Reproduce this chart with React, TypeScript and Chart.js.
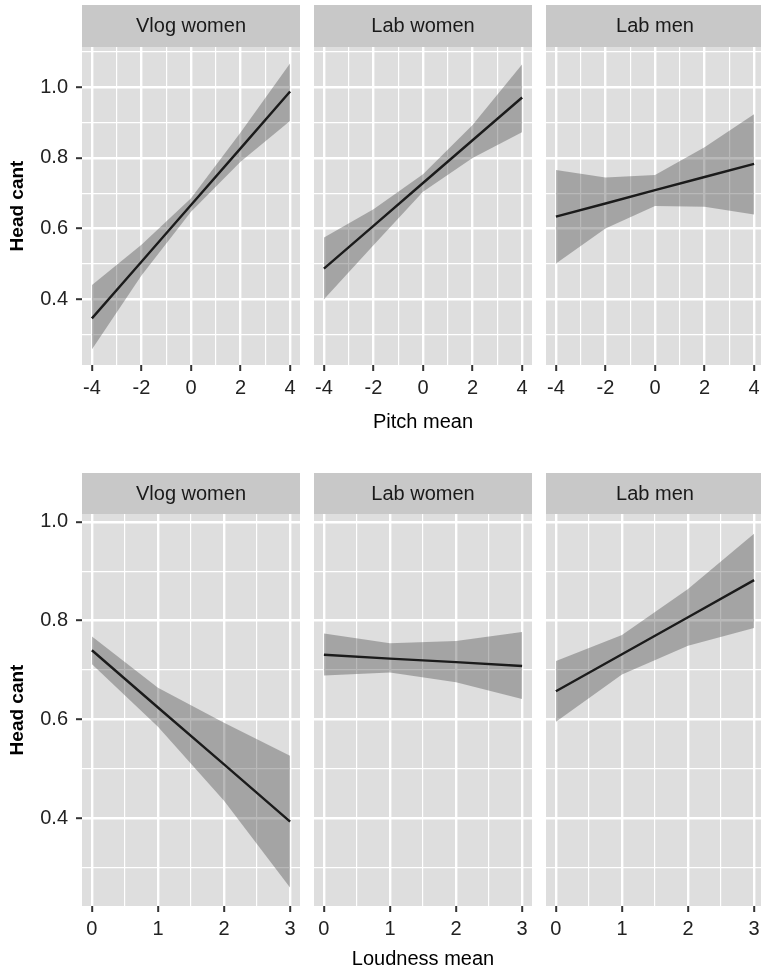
import React, { useEffect, useRef } from 'react';
import { Chart, registerables } from 'chart.js';

Chart.register(...registerables);

// ---------------- data ----------------
const facetLabels = ['Vlog women', 'Lab women', 'Lab men'];
const yTitle = 'Head cant';
const pitchTitle = 'Pitch mean';
const loudnessTitle = 'Loudness mean';

// Pitch mean (top row)
const pitchX = [-4, -2, 0, 2, 4];
const pitchTicks = [-4, -2, 0, 2, 4];
const pitchMinorTicks = [-3, -1, 1, 3];

const vlogPitchFit = [0.346, 0.506, 0.667, 0.827, 0.988];
const vlogPitchUpper = [0.44, 0.554, 0.686, 0.872, 1.068];
const vlogPitchLower = [0.258, 0.467, 0.648, 0.789, 0.905];

const labWomenPitchFit = [0.487, 0.608, 0.729, 0.85, 0.971];
const labWomenPitchUpper = [0.575, 0.655, 0.754, 0.893, 1.065];
const labWomenPitchLower = [0.4, 0.553, 0.704, 0.8, 0.873];

const labMenPitchFit = [0.634, 0.671, 0.709, 0.746, 0.783];
const labMenPitchUpper = [0.766, 0.745, 0.752, 0.83, 0.924];
const labMenPitchLower = [0.501, 0.6, 0.664, 0.662, 0.64];

// Loudness mean (bottom row)
const loudX = [0, 1, 2, 3];
const loudTicks = [0, 1, 2, 3];
const loudMinorTicks = [0.5, 1.5, 2.5];

const vlogLoudFit = [0.74, 0.624, 0.509, 0.393];
const vlogLoudUpper = [0.768, 0.664, 0.593, 0.526];
const vlogLoudLower = [0.712, 0.585, 0.435, 0.259];

const labWomenLoudFit = [0.731, 0.723, 0.716, 0.708];
const labWomenLoudUpper = [0.774, 0.754, 0.759, 0.777];
const labWomenLoudLower = [0.689, 0.695, 0.675, 0.641];

const labMenLoudFit = [0.657, 0.732, 0.807, 0.882];
const labMenLoudUpper = [0.718, 0.771, 0.864, 0.976];
const labMenLoudLower = [0.595, 0.691, 0.749, 0.785];

// y axis ticks
const headTicks = [0.4, 0.6, 0.8, 1.0];
const headMinorTop = [0.3, 0.5, 0.7, 0.9, 1.1];
const headMinorBottom = [0.3, 0.5, 0.7, 0.9];

// ---------------- styles ----------------
const FONT = '"Liberation Sans", Arial, Helvetica, sans-serif';
const PANEL = '#DEDEDE';
const STRIP = '#C8C8C8';
const RIBBON = 'rgba(70,70,70,0.38)';
const TICK_TXT = '#222222';
const TICK_MARK = '#333333';
const MAJOR_W = 2.4;
const MINOR_W = 1.2;

const facetBgPlugin = {
  id: 'facetBg',
  beforeDraw(chart: any) {
    const { ctx, chartArea: a } = chart;
    ctx.save();
    ctx.fillStyle = PANEL;
    ctx.fillRect(a.left, a.top, a.right - a.left, a.bottom - a.top);
    const tb = chart.titleBlock;
    if (tb) {
      ctx.fillStyle = STRIP;
      ctx.fillRect(a.left, tb.top, a.right - a.left, tb.bottom - tb.top);
    }
    ctx.restore();
  },
};

const isIn = (arr: number[], v: number) => arr.some((m) => Math.abs(m - v) < 1e-6);

type Spec = {
  left: number;
  top: number;
  width: number;
  height: number;
  yAxisW: number;
  xAxisH: number;
  showY: boolean;
  strip: string;
  stripPad: { top: number; bottom: number };
  xs: number[];
  fit: number[];
  upper: number[];
  lower: number[];
  xMin: number;
  xMax: number;
  xMajor: number[];
  xMinor: number[];
  yMin: number;
  yMax: number;
  yMajor: number[];
  yMinor: number[];
  xTitle: string;
  xTitlePadBottom: number;
};

function makeConfig(p: Spec): any {
  const pts = (ys: number[]) => p.xs.map((x, i) => ({ x, y: ys[i] }));
  const allX = [...p.xMajor, ...p.xMinor].sort((a, b) => a - b);
  const allY = [...p.yMajor, ...p.yMinor].sort((a, b) => a - b);
  const xW = allX.map((v) => (isIn(p.xMajor, v) ? MAJOR_W : MINOR_W));
  const yW = allY.map((v) => (isIn(p.yMajor, v) ? MAJOR_W : MINOR_W));
  const xTC = allX.map((v) => (isIn(p.xMajor, v) ? TICK_MARK : 'rgba(0,0,0,0)'));
  const yTC = allY.map((v) => (isIn(p.yMajor, v) ? TICK_MARK : 'rgba(0,0,0,0)'));
  return {
    type: 'line',
    data: {
      datasets: [
        {
          data: pts(p.upper),
          fill: '+1',
          backgroundColor: RIBBON,
          borderColor: 'rgba(0,0,0,0)',
          borderWidth: 0,
          pointRadius: 0,
          tension: 0,
        },
        {
          data: pts(p.lower),
          fill: false,
          backgroundColor: RIBBON,
          borderColor: 'rgba(0,0,0,0)',
          borderWidth: 0,
          pointRadius: 0,
          tension: 0,
        },
        {
          data: pts(p.fit),
          fill: false,
          borderColor: '#000000',
          borderWidth: 2.4,
          pointRadius: 0,
          tension: 0,
        },
      ],
    },
    options: {
      animation: false,
      responsive: false,
      maintainAspectRatio: false,
      events: [],
      layout: { padding: 0 },
      plugins: {
        legend: { display: false },
        tooltip: { enabled: false },
        title: {
          display: true,
          text: p.strip,
          fullSize: false,
          position: 'top',
          align: 'center',
          color: '#1A1A1A',
          font: { family: FONT, size: 20, weight: 'normal', lineHeight: 1.2 },
          padding: p.stripPad,
        },
      },
      scales: {
        x: {
          type: 'linear',
          position: 'bottom',
          min: p.xMin,
          max: p.xMax,
          afterBuildTicks: (s: any) => {
            s.ticks = allX.map((value) => ({ value }));
          },
          afterFit: (s: any) => {
            s.height = p.xAxisH;
            s.paddingLeft = 0;
            s.paddingRight = 0;
          },
          ticks: {
            autoSkip: false,
            maxRotation: 0,
            minRotation: 0,
            padding: 5,
            color: TICK_TXT,
            font: { family: FONT, size: 20, lineHeight: 1.2 },
            callback: (v: number) => (isIn(p.xMajor, v) ? String(v) : ''),
          },
          grid: {
            color: '#FFFFFF',
            lineWidth: xW,
            drawTicks: true,
            tickLength: 6,
            tickWidth: 2,
            tickColor: xTC,
          },
          border: { display: false },
          title: {
            display: !!p.xTitle,
            text: p.xTitle,
            color: '#000000',
            font: { family: FONT, size: 20, lineHeight: 1.2 },
            padding: { top: 0, bottom: p.xTitlePadBottom },
          },
        },
        y: {
          type: 'linear',
          position: 'left',
          min: p.yMin,
          max: p.yMax,
          afterBuildTicks: (s: any) => {
            s.ticks = allY.map((value) => ({ value }));
          },
          afterFit: (s: any) => {
            s.width = p.yAxisW;
            s.paddingTop = 0;
            s.paddingBottom = 0;
          },
          ticks: {
            display: p.showY,
            autoSkip: false,
            padding: 8,
            color: TICK_TXT,
            font: { family: FONT, size: 20, lineHeight: 1.2 },
            callback: (v: number) => (isIn(p.yMajor, v) ? v.toFixed(1) : ''),
          },
          grid: {
            color: '#FFFFFF',
            lineWidth: yW,
            drawTicks: p.showY,
            tickLength: 6,
            tickWidth: 2,
            tickColor: yTC,
          },
          border: { display: false },
          title: {
            display: p.showY,
            text: yTitle,
            color: '#000000',
            font: { family: FONT, size: 19, weight: 'bold', lineHeight: 1.2 },
            padding: { top: 6, bottom: 0 },
          },
        },
      },
    },
    plugins: [facetBgPlugin],
  };
}

function Facet({ spec }: { spec: Spec }) {
  const ref = useRef<HTMLCanvasElement>(null);
  useEffect(() => {
    if (!ref.current) return;
    const chart = new Chart(ref.current, makeConfig(spec));
    return () => chart.destroy();
  }, []);
  return (
    <canvas
      ref={ref}
      width={spec.width}
      height={spec.height}
      style={{
        position: 'absolute',
        left: spec.left,
        top: spec.top,
        width: spec.width,
        height: spec.height,
      }}
    />
  );
}

// ---------------- layout ----------------
const PANEL_W = 218;
const panelLefts = [82, 314, 546];

const topSeries = [
  { fit: vlogPitchFit, upper: vlogPitchUpper, lower: vlogPitchLower },
  { fit: labWomenPitchFit, upper: labWomenPitchUpper, lower: labWomenPitchLower },
  { fit: labMenPitchFit, upper: labMenPitchUpper, lower: labMenPitchLower },
];
const bottomSeries = [
  { fit: vlogLoudFit, upper: vlogLoudUpper, lower: vlogLoudLower },
  { fit: labWomenLoudFit, upper: labWomenLoudUpper, lower: labWomenLoudLower },
  { fit: labMenLoudFit, upper: labMenLoudUpper, lower: labMenLoudLower },
];

const specs: Spec[] = [];
topSeries.forEach((s, i) => {
  const first = i === 0;
  specs.push({
    left: first ? 0 : panelLefts[i],
    top: 5,
    width: first ? panelLefts[0] + PANEL_W : PANEL_W,
    height: 435,
    yAxisW: first ? panelLefts[0] : 0,
    xAxisH: 75,
    showY: first,
    strip: facetLabels[i],
    stripPad: { top: 9, bottom: 9 },
    xs: pitchX,
    fit: s.fit,
    upper: s.upper,
    lower: s.lower,
    xMin: -4.4,
    xMax: 4.4,
    xMajor: pitchTicks,
    xMinor: pitchMinorTicks,
    yMin: 0.214,
    yMax: 1.114,
    yMajor: headTicks,
    yMinor: headMinorTop,
    xTitle: i === 1 ? pitchTitle : '',
    xTitlePadBottom: 6,
  });
});
bottomSeries.forEach((s, i) => {
  const first = i === 0;
  specs.push({
    left: first ? 0 : panelLefts[i],
    top: 473,
    width: first ? panelLefts[0] + PANEL_W : PANEL_W,
    height: 498,
    yAxisW: first ? panelLefts[0] : 0,
    xAxisH: 65,
    showY: first,
    strip: facetLabels[i],
    stripPad: { top: 9, bottom: 8 },
    xs: loudX,
    fit: s.fit,
    upper: s.upper,
    lower: s.lower,
    xMin: -0.15,
    xMax: 3.15,
    xMajor: loudTicks,
    xMinor: loudMinorTicks,
    yMin: 0.222,
    yMax: 1.016,
    yMajor: headTicks,
    yMinor: headMinorBottom,
    xTitle: i === 1 ? loudnessTitle : '',
    xTitlePadBottom: 0,
  });
});

export default function App() {
  return (
    <div
      style={{
        position: 'absolute',
        left: 0,
        top: 0,
        width: 761,
        height: 971,
        overflow: 'hidden',
        background: '#FFFFFF',
      }}
    >
      {specs.map((s, i) => (
        <Facet key={i} spec={s} />
      ))}
    </div>
  );
}
